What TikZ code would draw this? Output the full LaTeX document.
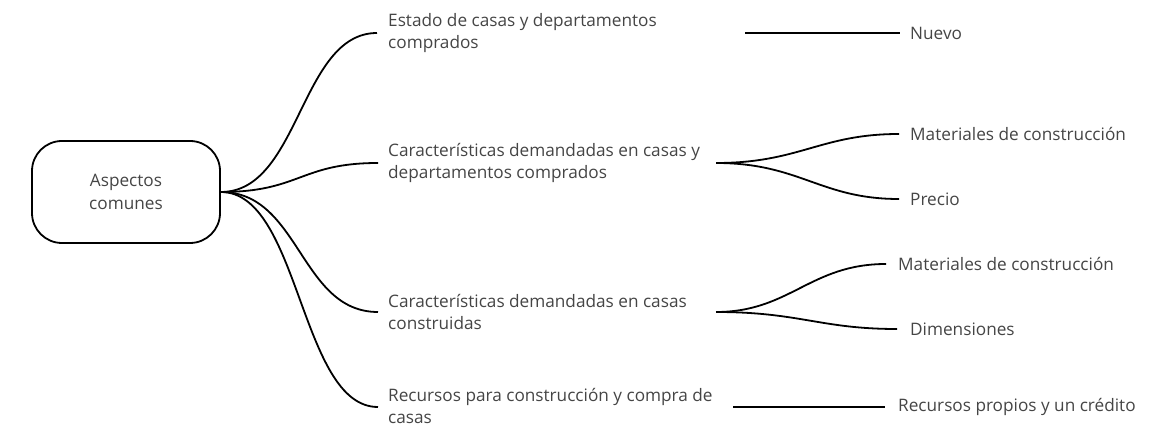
\documentclass[tikz,border=0pt]{standalone}
\usepackage{fontspec}
\setmainfont{Open Sans}
\definecolor{txt}{HTML}{454545}
\begin{document}
\begin{tikzpicture}[x=1pt,y=-1pt,
  lbl/.style={anchor=west,align=left,inner sep=0pt,text=txt,font=\fontsize{17.2}{22.5}\selectfont},
  conn/.style={draw=black,line width=1.8pt},
  rootbox/.style={draw=black,line width=1.8pt,rounded corners=30pt,minimum width=188pt,minimum height=102pt,align=center,text=txt,font=\fontsize{17.2}{22.5}\selectfont}]
\useasboundingbox (0,0) rectangle (1170,427);
\node[rootbox] (root) at (126,192) {Aspectos\\comunes};
% first level end points
\coordinate (e1) at (377,33);
\coordinate (e2) at (378,163);
\coordinate (e3) at (378,312);
\coordinate (e4) at (378,407);
\node[lbl] (t1) at (388,33) {Estado de casas y departamentos\\comprados};
\node[lbl] (t2) at (388,163) {Características demandadas en casas y\\departamentos comprados};
\node[lbl] (t3) at (388,312) {Características demandadas en casas\\construidas};
\node[lbl] (t4) at (388,406) {Recursos para construcción y compra de\\casas};
\draw[conn] (root.east) .. controls (300,192) and (300,33) .. (e1);
\draw[conn] (root.east) .. controls (300,192) and (300,163) .. (e2);
\draw[conn] (root.east) .. controls (300,192) and (300,312) .. (e3);
\draw[conn] (root.east) .. controls (300,192) and (300,407) .. (e4);
% second level
\coordinate (s1) at (745,33);
\coordinate (j2) at (716,163);
\coordinate (j3) at (716,312);
\coordinate (s4) at (733,407);
\coordinate (f1) at (900,33);
\coordinate (f2a) at (899,134);
\coordinate (f2b) at (899,199);
\coordinate (f3a) at (886,264);
\coordinate (f3b) at (897,329);
\coordinate (f4) at (885,407);
\node[lbl] (n1) at (910,33) {Nuevo};
\node[lbl] (n2a) at (910,134) {Materiales de construcción};
\node[lbl] (n2b) at (910,199) {Precio};
\node[lbl] (n3a) at (898,264) {Materiales de construcción};
\node[lbl] (n3b) at (910,329) {Dimensiones};
\node[lbl] (n4) at (898,407) {Recursos propios y un crédito};
\draw[conn] (s1) -- (f1);
\draw[conn] (j2) .. controls (800,163) and (820,134) .. (f2a);
\draw[conn] (j2) .. controls (800,163) and (820,199) .. (f2b);
\draw[conn] (j3) .. controls (790,312) and (810,264) .. (f3a);
\draw[conn] (j3) .. controls (800,312) and (820,329) .. (f3b);
\draw[conn] (s4) -- (f4);
\end{tikzpicture}
\end{document}
